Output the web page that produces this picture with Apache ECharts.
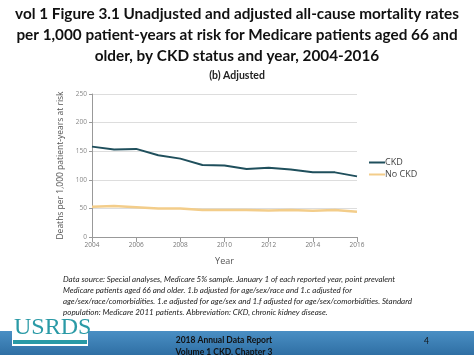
<!DOCTYPE html>
<html><head><meta charset="utf-8">
<script src="https://cdn.jsdelivr.net/npm/echarts@6/dist/echarts.min.js"></script>
<style>html,body{margin:0;padding:0;background:#fff}#c{width:474px;height:355px}</style>
</head><body><div id="c"></div>
<script>
const years = ['2004','2005','2006','2007','2008','2009','2010','2011','2012','2013','2014','2015','2016'];
const ckd = [158,153,154,143,137,126,125,119,121,118,113,113,106];
const noCkd = [53,54,52,50,50,47,47,47,46.5,47,46,47,44];
const yTicks = [0,50,100,150,200,250];

const chart = echarts.init(document.getElementById('c'), null, {renderer:'canvas'});
const titleFont = 'Lato, "Open Sans", sans-serif';
const footnote = [
 'Data source: Special analyses, Medicare 5% sample. January 1 of each reported year, point prevalent',
 'Medicare patients aged 66 and older. 1.b adjusted for age/sex/race and 1.c adjusted for',
 'age/sex/race/comorbidities. 1.e adjusted for age/sex and 1.f adjusted for age/sex/comorbidities. Standard',
 'population: Medicare 2011 patients. Abbreviation: CKD, chronic kidney disease.'
];
chart.setOption({
  animation:false,
  backgroundColor:'#fff',
  grid:{left:92, right:117, top:94, bottom:118},
  legend:{
    orient:'vertical', left:364, top:153, itemWidth:16, itemHeight:2, itemGap:3,
    icon:'rect',
    textStyle:{fontFamily:'"Open Sans", sans-serif', fontSize:9, color:'#444', padding:[0,0,0,-5]},
    data:['CKD','No CKD']
  },
  xAxis:{
    type:'category', data:years, boundaryGap:false,
    name:'Year', nameLocation:'middle', nameGap:20,
    nameTextStyle:{fontFamily:'"Open Sans", sans-serif', fontSize:9, color:'#555'},
    axisLine:{lineStyle:{color:'#999'}},
    axisTick:{show:true, alignWithLabel:true, interval:1, lineStyle:{color:'#999'}},
    axisLabel:{interval:1, fontFamily:'"Open Sans", sans-serif', fontSize:6.5, color:'#777', margin:5}
  },
  yAxis:{
    type:'value', min:0, max:250, interval:50,
    name:'Deaths per 1,000 patient-years at risk', nameLocation:'middle', nameGap:17,
    nameTextStyle:{fontFamily:'"Open Sans", sans-serif', fontSize:8.5, color:'#555'},
    axisLine:{show:true, lineStyle:{color:'#999'}},
    axisTick:{show:true, lineStyle:{color:'#999'}, length:3},
    axisLabel:{fontFamily:'"Open Sans", sans-serif', fontSize:6.5, color:'#888', margin:5,
      formatter:v=>yTicks.includes(v)?String(v):''},
    splitLine:{lineStyle:{color:'#ddd', width:1}}
  },
  series:[
    {name:'CKD', type:'line', data:ckd, symbol:'none',
     lineStyle:{color:'#1f4f5c', width:2}, itemStyle:{color:'#1f4f5c'}},
    {name:'No CKD', type:'line', data:noCkd, symbol:'none',
     lineStyle:{color:'#f3cd8a', width:2.5}, itemStyle:{color:'#f3cd8a'}}
  ],
  graphic:[
    {type:'text', x:237, y:4, style:{
      text:'vol 1 Figure 3.1 Unadjusted and adjusted all-cause mortality rates\nper 1,000 patient-years at risk for Medicare patients aged 66 and\nolder, by CKD status and year, 2004-2016',
      fontFamily:titleFont, fontWeight:'bold', fontSize:15.3, lineHeight:21, fill:'#111', align:'center'}},
    {type:'text', x:237, y:70, style:{text:'(b) Adjusted', fontFamily:titleFont, fontWeight:'bold', fontSize:10.5, fill:'#222', align:'center'}},
    {type:'group', children: footnote.map((t,i)=>({
      type:'text', x:63, y:275+i*11,
      style:{text:t, fontFamily:titleFont, fontStyle:'italic', fontSize:8, fill:'#222'}
    }))},
    {type:'rect', shape:{x:0,y:331,width:474,height:24},
     style:{fill:new echarts.graphic.LinearGradient(0,0,0,1,[{offset:0,color:'#4a8fc4'},{offset:1,color:'#2f6fa4'}])}},
    {type:'rect', shape:{x:12,y:318,width:76,height:28}, style:{fill:'#fff'}},
    {type:'text', x:14, y:316, style:{text:'USRDS', fontFamily:'"Liberation Serif", serif', fontSize:24, fill:'#2a9aa6'}},
    {type:'rect', shape:{x:13,y:340,width:74,height:4}, style:{fill:'#2a9aa6'}},
    {type:'text', x:224, y:334, style:{text:'2018 Annual Data Report\nVolume 1 CKD, Chapter 3', fontFamily:titleFont, fontWeight:'bold', fontSize:8.5, lineHeight:12, fill:'#111', align:'center'}},
    {type:'text', x:424, y:337, style:{text:'4', fontFamily:titleFont, fontSize:8.5, fill:'#111'}}
  ]
});
</script></body></html>
